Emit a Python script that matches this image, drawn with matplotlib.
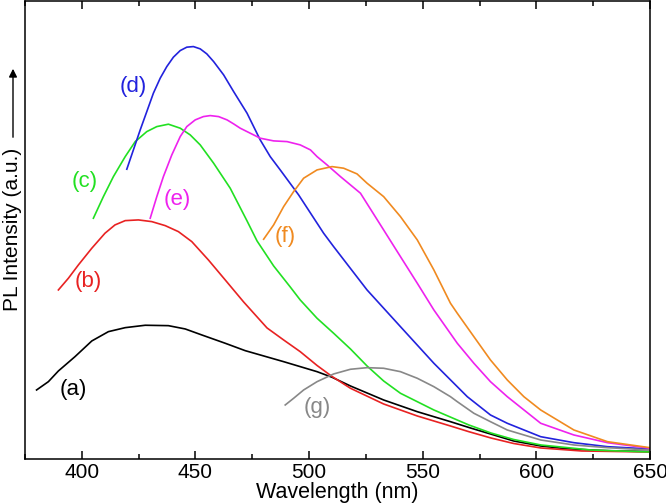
import matplotlib
matplotlib.use("Agg")
import matplotlib.pyplot as plt
from matplotlib.ticker import MultipleLocator

plt.rcParams['font.family'] = ['Liberation Sans', 'DejaVu Sans']

# wavelength (nm) / intensity (a.u.)
wl_a = [380.1, 385.3, 389.7, 397.0, 404.4, 411.7, 419.1, 427.9, 438.1, 445.5, 452.8, 463.1, 471.9,
        488.8, 503.5, 510.1, 518.2, 532.8, 547.6, 562.2, 571.0, 579.8, 590.0, 601.9, 612.0, 623.9, 635.0, 650.0]
pl_a = [69, 77.3, 88, 102.3, 118, 127.3, 131.3, 133.7, 133.3, 130, 124, 115.7, 108.3,
        97.3, 87.3, 81.7, 73, 59, 47.3, 37.3, 31, 25, 18, 13, 10.5, 9, 8, 7.5]

wl_b = [389.7, 394.1, 398.5, 404.4, 410.2, 414.6, 419.1, 424.9, 430.8, 436.7, 442.5, 448.4, 455.7, 463.1, 471.2,
        481.5, 488.8, 496.1, 503.5, 510.1, 518.2, 532.8, 547.6, 562.2, 570.3, 580.0, 590.0, 602.0, 620.0, 650.0]
pl_b = [169, 180.7, 194, 210.7, 225.7, 234, 238.3, 239, 237.3, 233.3, 227.3, 217.3, 199, 179, 157,
        131, 119, 107.3, 93.5, 82.5, 70.7, 55, 43, 33, 27.3, 21, 15.5, 11, 8, 7]

wl_c = [405.1, 409.5, 413.9, 419.1, 423.5, 428.6, 433.0, 438.1, 443.3, 447.7, 452.1, 458.0, 465.3, 472.7, 477.1,
        484.4, 491.7, 496.1, 503.5, 510.8, 518.2, 525.5, 532.8, 540.2, 554.9, 570.3, 580.0, 590.0, 602.0, 624.0, 650.0]
pl_c = [240.7, 262.3, 282.3, 302.3, 317.3, 327.3, 332.3, 334.7, 330.7, 324, 314, 295.7, 270.7, 238, 218,
        193, 172, 159, 140.7, 125.7, 110, 93, 78, 65.7, 49, 34, 26, 19.5, 14, 9, 7]

wl_d = [419.8, 422.7, 425.7, 428.6, 431.5, 434.5, 437.4, 440.3, 443.3, 446.2, 449.1, 452.1, 455.0, 458.0, 462.4,
        466.8, 472.7, 478.5, 482.9, 487.3, 495.4, 506.4, 510.8, 525.5, 540.2, 554.9, 569.6, 579.8, 587.2, 601.9,
        616.5, 631.3, 650.0]
pl_d = [289.7, 309, 329, 347.3, 365.7, 380.7, 392.3, 401.7, 408.3, 411.7, 412.3, 410, 405, 397.3, 384,
        367.3, 345.7, 319, 302.3, 289, 264, 225.7, 212.3, 169, 132.3, 95.7, 62.3, 44, 35.7, 22.3,
        16.3, 12.3, 10]

wl_e = [430.1, 433.0, 435.9, 439.6, 443.3, 446.2, 449.9, 453.5, 456.5, 460.2, 463.9, 466.8, 469.7, 474.1, 478.5,
        484.4, 490.3, 496.1, 500.6, 503.5, 507.9, 513.8, 518.2, 522.6, 532.8, 540.2, 547.6, 554.9, 565.2, 572.5,
        579.8, 587.2, 601.9, 616.5, 631.3, 650.0]
pl_e = [240.7, 262.3, 282.3, 304, 322.3, 332.3, 339, 342.3, 343.3, 342.3, 339, 335, 330.7, 325.7, 320.7,
        318, 317.3, 314, 309, 302.3, 294, 282.3, 274, 265.7, 229, 202.3, 175.7, 149, 115.7, 95.7,
        77.3, 62.3, 35.7, 24, 16.3, 10.7]

wl_f = [480.0, 484.4, 488.8, 493.2, 497.6, 503.5, 510.1, 515.2, 521.1, 525.5, 532.8, 540.2, 547.6, 554.9, 562.2,
        565.2, 572.5, 579.8, 587.2, 594.5, 601.9, 616.5, 631.3, 650.0]
pl_f = [219.7, 234, 252.3, 267.3, 280.7, 289, 292.3, 290.7, 285, 275.7, 262.3, 242.3, 219, 189, 155.7,
        145.7, 122.3, 99, 79, 62.3, 49, 29, 17.3, 11.3]

wl_g = [489.5, 493.2, 497.6, 503.5, 510.8, 518.2, 525.5, 532.8, 540.2, 547.6, 554.9, 562.2, 565.2, 572.5, 579.8,
        587.2, 601.9, 616.5, 631.3, 650.0]
pl_g = [54, 60.7, 69, 77.3, 85, 89.7, 91.3, 90.7, 87.3, 80.7, 72.3, 62.3, 57.3, 45.7, 37.3,
        29, 19, 14, 11.3, 9]

labels = ['(a)', '(b)', '(c)', '(d)', '(e)', '(f)', '(g)']
label_wl = [396.1, 402.8, 401.4, 422.6, 441.8, 489.5, 503.5]
label_pl = [69, 177, 277, 372, 259, 222, 51]

colors = ['black', '#e82222', '#22e022', '#2222dd', '#ee22ee', '#f08a20', '#888888']

series = [(wl_a, pl_a), (wl_b, pl_b), (wl_c, pl_c), (wl_d, pl_d),
          (wl_e, pl_e), (wl_f, pl_f), (wl_g, pl_g)]

fig = plt.figure(figsize=(6.66, 5.04), dpi=100)
ax = fig.add_axes([0.0375, 0.0893, 0.9385, 0.909])

for (x, y), col in zip(series, colors):
    ax.plot(x, y, color=col, lw=1.2)

for lab, x, y, col in zip(labels, label_wl, label_pl, colors):
    ax.text(x, y, lab, color=col, fontsize=16, ha='center', va='center')

ax.set_xlim(375, 650)
ax.set_ylim(0, 458)
ax.xaxis.set_major_locator(MultipleLocator(50))
ax.xaxis.set_minor_locator(MultipleLocator(25))
ax.tick_params(axis='x', which='both', direction='in', top=True, labelsize=15, width=1.1, pad=3)
ax.tick_params(axis='x', which='major', length=6)
ax.tick_params(axis='x', which='minor', length=3.5)
ax.set_yticks([])
for s in ax.spines.values():
    s.set_linewidth(1.1)
ax.set_xlabel('Wavelength (nm)', fontsize=15.5, labelpad=0)

fig.text(13 / 666, 1 - 229 / 504, 'PL Intensity (a.u.)', rotation=90,
         fontsize=15, ha='center', va='center')
ax.annotate('', xy=(13 / 666, 1 - 66 / 504), xytext=(13 / 666, 1 - 140 / 504),
            xycoords='figure fraction', textcoords='figure fraction',
            arrowprops=dict(arrowstyle='-|>', color='black', lw=1.0, mutation_scale=12))

fig.savefig('out.png', dpi=100)
